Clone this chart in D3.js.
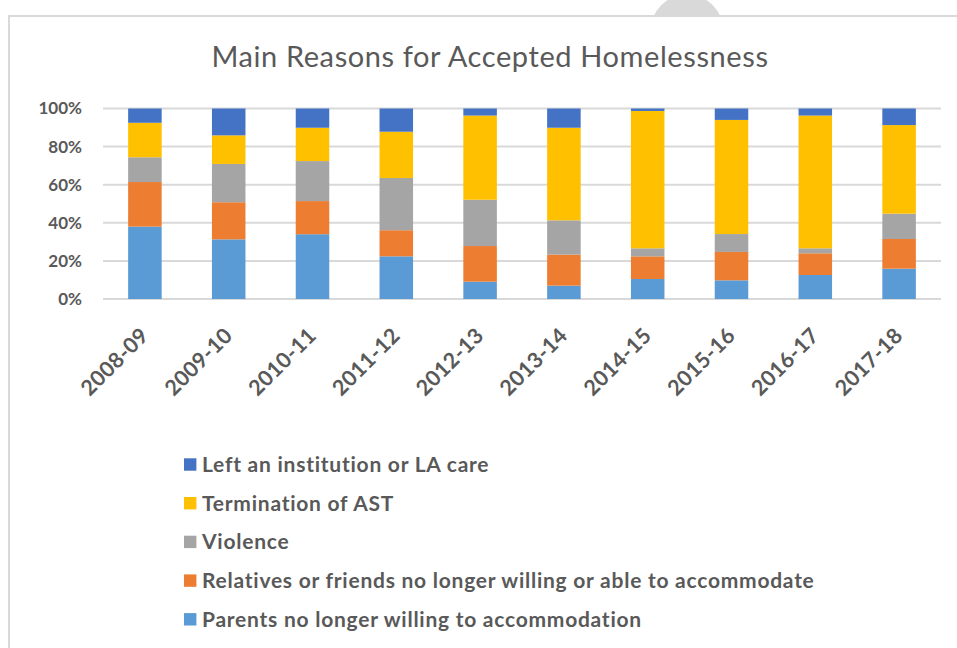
<!DOCTYPE html>
<html>
<head>
<meta charset="utf-8">
<script src="https://cdn.jsdelivr.net/npm/d3@7"></script>
<style>
  html, body { margin: 0; padding: 0; background: #fff; }
  svg { display: block; }
  text { font-family: Lato, "Open Sans", sans-serif; fill: #595959; }
</style>
</head>
<body>
<svg id="chart" width="957" height="648"></svg>
<script>
// Main reasons for accepted homelessness, share of cases per year (%)
const years = ["2008-09", "2009-10", "2010-11", "2011-12", "2012-13",
               "2013-14", "2014-15", "2015-16", "2016-17", "2017-18"];

const parents     = [38.0, 31.3, 34.0, 22.4,  9.1,  7.0, 10.5,  9.8, 12.6, 15.9];
const relatives   = [23.4, 19.5, 17.4, 13.7, 18.7, 16.3, 11.9, 14.9, 11.4, 15.6];
const violence    = [13.0, 20.1, 21.0, 27.4, 24.3, 18.0,  4.2,  9.4,  2.6, 13.3];
const terminAST   = [18.1, 15.0, 17.5, 24.3, 44.2, 48.6, 72.1, 59.9, 69.7, 46.5];
const institution = [ 7.5, 14.1, 10.1, 12.2,  3.7, 10.1,  1.3,  6.0,  3.7,  8.7];

const seriesNames = [
  "Parents no longer willing to accommodation",
  "Relatives or friends no longer willing or able to accommodate",
  "Violence",
  "Termination of AST",
  "Left an institution or LA care"
];
const seriesValues = [parents, relatives, violence, terminAST, institution];
const seriesColors = ["#5B9BD5", "#ED7D31", "#A5A5A5", "#FFC000", "#4472C4"];
const yTicks = [0, 0.2, 0.4, 0.6, 0.8, 1.0];

const svg = d3.select("#chart");

// decorative grey tab peeking above the chart frame
svg.append("circle")
  .attr("cx", 687).attr("cy", 31).attr("r", 36.5)
  .attr("fill", "#d9d9d9");

// chart frame
svg.append("rect")
  .attr("x", 9).attr("y", 16)
  .attr("width", 1000).attr("height", 700)
  .attr("fill", "#fff")
  .attr("stroke", "#d9d9d9")
  .attr("stroke-width", 2);

svg.append("text")
  .attr("x", 490).attr("y", 67)
  .attr("text-anchor", "middle")
  .style("font-size", "29px")
  .style("letter-spacing", "0.6px")
  .text("Main Reasons for Accepted Homelessness");

// build rows of 100%-normalised shares for stacking
const keys = seriesNames.map((_, i) => "s" + i);
const rows = years.map((y, j) => {
  const total = d3.sum(seriesValues, s => s[j]);
  const r = { year: y };
  keys.forEach((k, i) => { r[k] = seriesValues[i][j] / total; });
  return r;
});
const stacked = d3.stack().keys(keys)(rows);

const x = d3.scaleBand().domain(years).range([103, 941])
  .paddingInner(0.6).paddingOuter(0.3);
const y = d3.scaleLinear().domain([0, 1]).range([299, 108.5]);

// gridlines
svg.append("g")
  .selectAll("line")
  .data(yTicks)
  .join("line")
  .attr("x1", 103).attr("x2", 941)
  .attr("y1", d => y(d)).attr("y2", d => y(d))
  .attr("stroke", "#d9d9d9")
  .attr("stroke-width", 2);

// y axis labels
const yAxis = svg.append("g")
  .attr("transform", "translate(82,0)")
  .call(d3.axisLeft(y).tickValues(yTicks).tickFormat(d3.format(".0%")).tickSize(0).tickPadding(0));
yAxis.select(".domain").remove();
yAxis.selectAll("text")
  .style("font-size", "17px")
  .style("font-weight", "700")
  .style("font-family", "Lato, sans-serif")
  .attr("fill", "#595959");

// stacked bars
svg.append("g")
  .selectAll("g")
  .data(stacked)
  .join("g")
  .attr("fill", (d, i) => seriesColors[i])
  .selectAll("rect")
  .data(d => d)
  .join("rect")
  .attr("x", d => x(d.data.year))
  .attr("width", x.bandwidth())
  .attr("y", d => y(d[1]))
  .attr("height", d => y(d[0]) - y(d[1]));

// x axis labels, rotated
const xAxis = svg.append("g")
  .attr("transform", "translate(0,299)")
  .call(d3.axisBottom(x).tickSize(0).tickPadding(0));
xAxis.select(".domain").remove();
xAxis.selectAll("text")
  .attr("text-anchor", "end")
  .attr("dy", 0)
  .attr("transform", "translate(5,38) rotate(-45)")
  .style("font-size", "21.5px")
  .style("font-weight", "700")
  .style("letter-spacing", "0.3px")
  .style("font-family", "Lato, sans-serif")
  .attr("fill", "#595959");

// legend, top to bottom in reverse stacking order
const legendOrder = d3.range(seriesNames.length).reverse();
const legend = svg.append("g")
  .selectAll("g")
  .data(legendOrder)
  .join("g")
  .attr("transform", (d, i) => `translate(184,${464.5 + i * 38.7})`);
legend.append("rect")
  .attr("x", 0).attr("y", -6.2)
  .attr("width", 12.4).attr("height", 12.4)
  .attr("fill", d => seriesColors[d]);
legend.append("text")
  .attr("x", 18).attr("y", 0)
  .attr("dy", "0.36em")
  .style("font-size", "21px")
  .style("font-weight", "700")
  .style("letter-spacing", "0.75px")
  .text(d => seriesNames[d]);
</script>
</body>
</html>
